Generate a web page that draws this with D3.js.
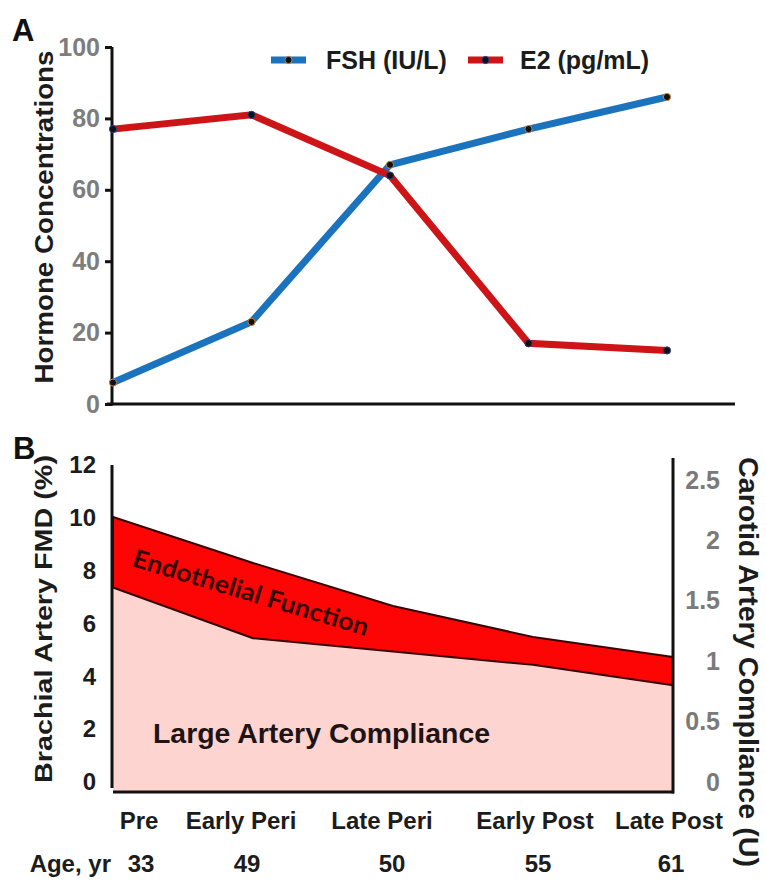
<!DOCTYPE html>
<html>
<head>
<meta charset="utf-8">
<script src="https://cdn.jsdelivr.net/npm/d3@7"></script>
<style>
  html, body { margin: 0; padding: 0; background: #fff; }
  svg { display: block; font-family: "Liberation Sans", Arial, sans-serif; }
</style>
</head>
<body>
<svg id="chart" width="766" height="881"></svg>
<script>
// ---------- data ----------
const stages = ["Pre", "Early Peri", "Late Peri", "Early Post", "Late Post"];
const ages = [33, 49, 50, 55, 61];
const fsh = [6, 23, 67, 77, 86];          // FSH (IU/L)
const e2 = [77, 81, 64, 17, 15];          // E2 (pg/mL)
const fmd = [10.03, 8.29, 6.66, 5.49, 4.73];      // Brachial artery FMD (%) – top of band
const compliance = [1.61, 1.19, 1.08, 0.97, 0.80]; // Carotid artery compliance (U)
const hormoneTicks = [0, 20, 40, 60, 80, 100];
const fmdTicks = [0, 2, 4, 6, 8, 10, 12];
const complianceTicks = [0, 0.5, 1, 1.5, 2, 2.5];

// ---------- layout ----------
const svg = d3.select("#chart");
const dark = "#1c1c1c";
const blue = "#1b73be";
const red = "#cd1417";

// ===== Panel A =====
const xA = d3.scalePoint(stages, [113, 667]);
const yA = d3.scaleLinear([0, 100], [404, 47]);

const gA = svg.append("g");
const axA = gA.append("g").attr("transform", "translate(112,0)")
  .call(d3.axisLeft(yA).tickValues(hormoneTicks).tickSize(7).tickPadding(5));
axA.select(".domain").remove();
axA.selectAll(".tick line").attr("stroke", "#111").attr("stroke-width", 3);
axA.selectAll(".tick text").attr("fill", "#7d7d7d").attr("font-size", 25)
  .attr("font-weight", "bold").attr("font-family", "Liberation Sans, Arial, sans-serif");
gA.append("line").attr("x1", 112).attr("x2", 112).attr("y1", yA(100)).attr("y2", yA(0) + 1.5)
  .attr("stroke", "#111").attr("stroke-width", 3);
gA.append("line").attr("x1", 107).attr("x2", 735).attr("y1", yA(0)).attr("y2", yA(0))
  .attr("stroke", "#111").attr("stroke-width", 3);

const lineA = d3.line().x((d, i) => xA(stages[i])).y(d => yA(d));
gA.append("path").datum(fsh).attr("d", lineA).attr("fill", "none")
  .attr("stroke", blue).attr("stroke-width", 7);
gA.append("path").datum(e2).attr("d", lineA).attr("fill", "none")
  .attr("stroke", red).attr("stroke-width", 7);

function markers(vals, halo) {
  gA.selectAll(null).data(vals).join("circle")
    .attr("cx", (d, i) => xA(stages[i])).attr("cy", d => yA(d)).attr("r", 3.6)
    .attr("fill", "#111").attr("stroke", halo).attr("stroke-width", 1);
}
markers(fsh, "#c8863e");
markers(e2, "#2a3f8a");

// legend
const legend = [
  { label: "FSH (IU/L)", color: blue, halo: "#c8863e", x: 271, tx: 326 },
  { label: "E2 (pg/mL)", color: red, halo: "#2a3f8a", x: 468, tx: 520 }
];
legend.forEach(l => {
  gA.append("line").attr("x1", l.x).attr("x2", l.x + 35).attr("y1", 60).attr("y2", 60)
    .attr("stroke", l.color).attr("stroke-width", 7);
  gA.append("circle").attr("cx", l.x + 17.5).attr("cy", 60).attr("r", 3.6)
    .attr("fill", "#111").attr("stroke", l.halo).attr("stroke-width", 1);
  gA.append("text").attr("x", l.tx).attr("y", 69).text(l.label)
    .attr("font-size", 25).attr("font-weight", "bold").attr("fill", dark);
});

gA.append("text").attr("transform", "translate(53,217) rotate(-90)")
  .attr("text-anchor", "middle").attr("font-size", 25).attr("font-weight", "bold")
  .attr("fill", dark).attr("textLength", 333).attr("lengthAdjust", "spacingAndGlyphs")
  .text("Hormone Concentrations");
gA.append("text").attr("x", 12).attr("y", 41).text("A")
  .attr("font-size", 31).attr("font-weight", "bold").attr("fill", "#111");

// ===== Panel B =====
const xB = d3.scalePoint(stages, [113, 673]);
const yL = d3.scaleLinear([0, 12], [782, 465]);
const yR = d3.scaleLinear([0, 2.5], [782, 480]);
const bottomB = 792;

const gB = svg.append("g");
const lowerArea = d3.area().x((d, i) => xB(stages[i])).y0(bottomB).y1(d => yR(d));
const band = d3.area().x((d, i) => xB(stages[i])).y0((d, i) => yR(compliance[i])).y1(d => yL(d));

gB.append("path").datum(compliance).attr("d", lowerArea).attr("fill", "#fdd4d0");
gB.append("path").datum(fmd).attr("d", band).attr("fill", "#fe0505")
  .attr("stroke", "#3a0202").attr("stroke-width", 2).attr("stroke-linejoin", "round");

gB.append("line").attr("x1", 112).attr("x2", 112).attr("y1", yL(12)).attr("y2", 788)
  .attr("stroke", "#111").attr("stroke-width", 3);
gB.append("line").attr("x1", 113).attr("x2", 674).attr("y1", bottomB).attr("y2", bottomB)
  .attr("stroke", "#111").attr("stroke-width", 3);
gB.append("line").attr("x1", 673).attr("x2", 673).attr("y1", 458).attr("y2", bottomB + 1.5)
  .attr("stroke", "#111").attr("stroke-width", 3);

const axL = gB.append("g").attr("transform", "translate(112,0)")
  .call(d3.axisLeft(yL).tickValues(fmdTicks).tickSize(0).tickPadding(16));
axL.select(".domain").remove();
axL.selectAll(".tick text").attr("fill", dark).attr("font-size", 24)
  .attr("font-weight", "bold").attr("font-family", "Liberation Sans, Arial, sans-serif");

const axR = gB.append("g").attr("transform", "translate(673,0)")
  .call(d3.axisRight(yR).tickValues(complianceTicks).tickSize(0).tickFormat(d => String(d)));
axR.select(".domain").remove();
axR.selectAll(".tick text").attr("fill", "#7a7a7a").attr("font-size", 25)
  .attr("font-weight", "bold").attr("text-anchor", "end").attr("x", 47)
  .attr("font-family", "Liberation Sans, Arial, sans-serif");

const xLabelNudge = [26, -12, -11, 2, -4];
const ageNudge = [28, -6, -1, 5, -2];
gB.selectAll(null).data(stages).join("text")
  .attr("x", (d, i) => xB(d) + xLabelNudge[i]).attr("y", 829)
  .attr("text-anchor", "middle").attr("font-size", 24).attr("font-weight", "bold")
  .attr("fill", dark).text(d => d);
gB.selectAll(null).data(ages).join("text")
  .attr("x", (d, i) => xB(stages[i]) + ageNudge[i]).attr("y", 872)
  .attr("text-anchor", "middle").attr("font-size", 24).attr("font-weight", "bold")
  .attr("fill", dark).text(d => d);
gB.append("text").attr("x", 111).attr("y", 872).attr("text-anchor", "end")
  .attr("font-size", 24).attr("font-weight", "bold").attr("fill", dark).text("Age, yr");

gB.append("text").attr("x", 153).attr("y", 743).attr("font-size", 28).attr("font-weight", "bold")
  .attr("fill", "#1e1416").attr("textLength", 337).attr("lengthAdjust", "spacingAndGlyphs")
  .text("Large Artery Compliance");
gB.append("text").attr("transform", "translate(131,566) rotate(16.6)")
  .attr("font-family", "Lato, 'Open Sans', sans-serif").attr("font-size", 25).attr("font-weight", "bold")
  .attr("fill", "#3a0303").attr("textLength", 245).attr("lengthAdjust", "spacingAndGlyphs")
  .text("Endothelial Function");

gB.append("text").attr("transform", "translate(52,619) rotate(-90)")
  .attr("text-anchor", "middle").attr("font-size", 23).attr("font-weight", "bold")
  .attr("fill", dark).attr("textLength", 328).attr("lengthAdjust", "spacingAndGlyphs")
  .text("Brachial Artery FMD (%)");
gB.append("text").attr("transform", "translate(739,662) rotate(90)")
  .attr("text-anchor", "middle").attr("font-size", 27).attr("font-weight", "bold")
  .attr("fill", dark).attr("textLength", 410).attr("lengthAdjust", "spacingAndGlyphs")
  .text("Carotid Artery Compliance (U)");
gB.append("text").attr("x", 13).attr("y", 459).text("B")
  .attr("font-size", 31).attr("font-weight", "bold").attr("fill", "#111");
</script>
</body>
</html>
